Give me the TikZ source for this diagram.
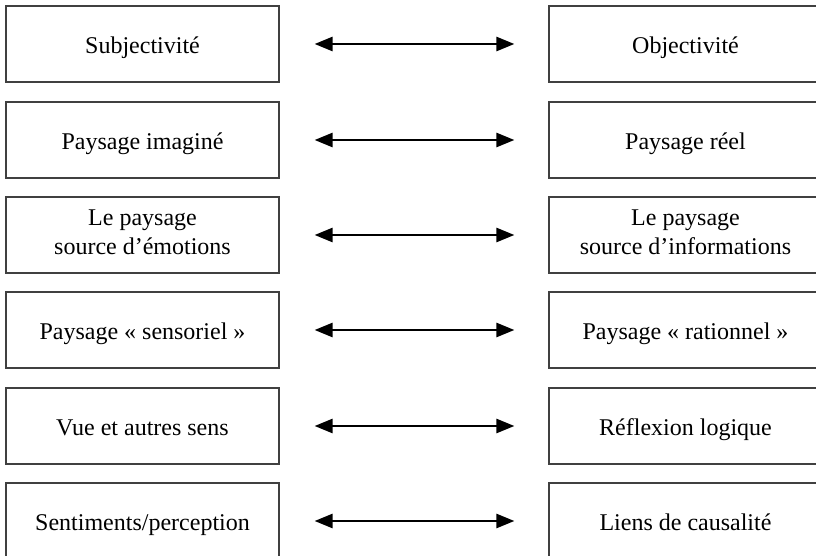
\documentclass[tikz,border=0pt]{standalone}
\usepackage{fontspec}
\setmainfont{Liberation Serif}
\usetikzlibrary{arrows.meta}

\begin{document}
\begin{tikzpicture}[x=0.5pt, y=-0.5pt, every node/.style={font=\fontsize{12}{14.5}\selectfont}, >={Triangle[length=9pt, width=7pt]}, bx/.style={draw=black!75, line width=0.6pt, minimum width=136.5pt, minimum height=38pt, inner sep=0pt, align=center, execute at begin node={\rule{0pt}{12.5pt}}, execute at end node={\rule[-3pt]{0pt}{0pt}}}, lk/.style={<->, line width=1.3pt, shorten <=17.5pt, shorten >=17pt}]
	\clip (0,0) rectangle (816,556);
	\node[bx] (l1) at (142.5,44) {Subjectivité};
	\node[bx] (r1) at (685.5,44) {Objectivité};
	\node[bx] (l2) at (142.5,140) {Paysage imaginé};
	\node[bx] (r2) at (685.5,140) {Paysage réel};
	\node[bx] (l3) at (142.5,235) {Le paysage\\ source d’émotions};
	\node[bx] (r3) at (685.5,235) {Le paysage\\ source d’informations};
	\node[bx] (l4) at (142.5,330) {Paysage «~sensoriel~»};
	\node[bx] (r4) at (685.5,330) {Paysage «~rationnel~»};
	\node[bx] (l5) at (142.5,426) {Vue et autres sens};
	\node[bx] (r5) at (685.5,426) {Réflexion logique};
	\node[bx] (l6) at (142.5,521) {Sentiments/perception};
	\node[bx] (r6) at (685.5,521) {Liens de causalité};
	\draw[lk] (l1) -- (r1); \draw[lk] (l2) -- (r2);
	\draw[lk] (l3) -- (r3); \draw[lk] (l4) -- (r4);
	\draw[lk] (l5) -- (r5); \draw[lk] (l6) -- (r6);
\end{tikzpicture}
\end{document}
